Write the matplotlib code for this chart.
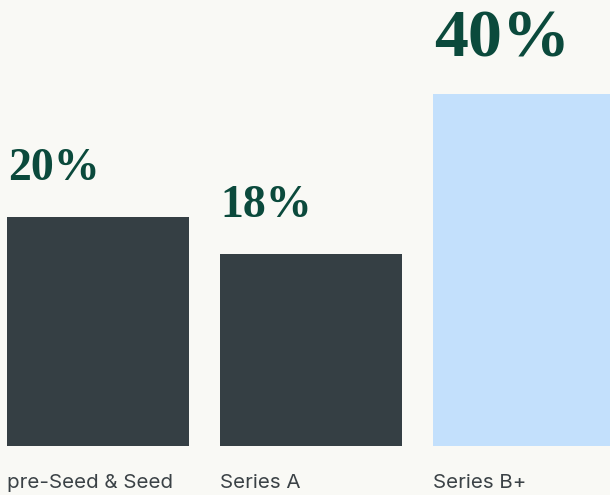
import matplotlib
matplotlib.use('Agg')
import matplotlib.pyplot as plt

# datos
categories = ['pre-Seed & Seed', 'Series A', 'Series B+']
pct_labels = ['20%', '18%', '40%']
bar_heights = [22.9, 19.2, 35.2]   # altura visual de cada barra (unidades del gráfico)
bar_colors = ['#353f44', '#353f44', '#c3e0fc']
label_sizes = [33, 33, 49]

BG = '#f9f9f5'
GREEN = '#0b4a3c'

fig = plt.figure(figsize=(6.1, 4.95), dpi=100, facecolor=BG)
ax = fig.add_axes([0, 0, 1, 1])
ax.set_facecolor(BG)

x = list(range(len(categories)))
width = 182 / 213
ax.bar(x, bar_heights, width=width, color=bar_colors, align='center')

ax.set_xlim(-98 / 213, 512 / 213)
ax.set_ylim(-4.9, 44.6)
ax.axis('off')

for i, (h, lab, fs) in enumerate(zip(bar_heights, pct_labels, label_sizes)):
    left = i - width / 2
    ax.text(left + 0.003, h + 3.7, lab, ha='left', va='baseline',
            fontsize=fs, fontweight='bold', family='Liberation Serif', color=GREEN)
    ax.text(left, -4.25, categories[i], ha='left', va='baseline',
            fontsize=14.8, family='Inter', color='#3b4246')

fig.savefig('out.png', dpi=100, facecolor=BG)
